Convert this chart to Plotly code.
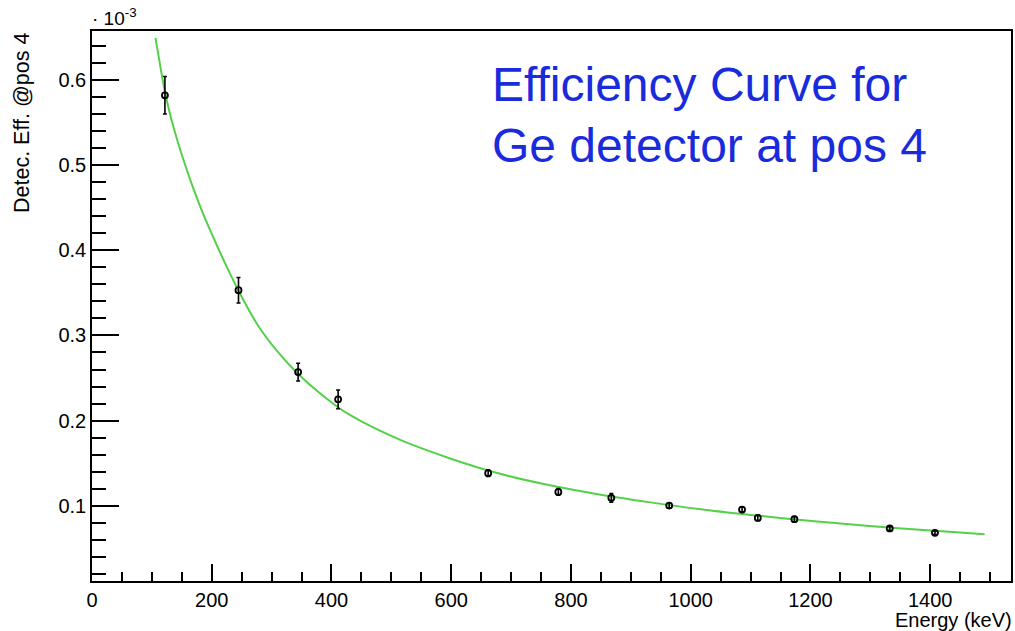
import plotly.graph_objects as go

# Measured points (efficiency in units of 1e-3)
energy_keV = [121.8, 244.7, 344.3, 411.1, 661.7, 778.9, 867.4, 964.1, 1085.8, 1112.1, 1173.2, 1332.5, 1408.0]
eff_e3 = [0.5816, 0.353, 0.257, 0.225, 0.1385, 0.1165, 0.1095, 0.1005, 0.0958, 0.086, 0.0845, 0.0736, 0.0685]
eff_err_e3 = [0.022, 0.015, 0.0104, 0.011, 0.004, 0.004, 0.005, 0.003, 0.003, 0.003, 0.003, 0.002, 0.002]

# Fit curve (units of 1e-3)
fit_keV = [106, 115, 122, 132, 142, 156, 170, 186, 202, 222, 245, 277, 310, 347, 390, 430, 513, 597,
           680, 763, 847, 930, 1013, 1100, 1180, 1260, 1347, 1420, 1491]
fit_e3 = [0.649, 0.612, 0.585, 0.555, 0.530, 0.499, 0.471, 0.442, 0.416, 0.385, 0.352, 0.312, 0.281,
          0.253, 0.227, 0.207, 0.178, 0.156, 0.138, 0.1245, 0.1135, 0.1045, 0.0965, 0.0895, 0.0838,
          0.0787, 0.0740, 0.0702, 0.0668]

x_range = [0, 1535]
y_range = [0.012, 0.657]

FONT = "Liberation Sans, Arial, Helvetica, sans-serif"

fig = go.Figure()
fig.add_trace(go.Scatter(
    x=fit_keV, y=fit_e3, mode="lines",
    line=dict(color="#55d04a", width=2, shape="spline", smoothing=1.0),
    hoverinfo="skip", showlegend=False,
))
fig.add_trace(go.Scatter(
    x=energy_keV, y=eff_e3, mode="markers",
    marker=dict(symbol="circle-open", size=6, color="black", line=dict(color="black", width=1.8)),
    error_y=dict(type="data", array=eff_err_e3, visible=True, color="black", thickness=1.6, width=2),
    showlegend=False,
))

axis_common = dict(
    showline=True, linecolor="black", linewidth=1.5, mirror=True,
    ticks="inside", tickcolor="black", tickwidth=1.5,
    showgrid=False, zeroline=False,
    tickfont=dict(family=FONT, size=20, color="black"),
)

fig.update_xaxes(
    range=x_range, tick0=0, dtick=200, ticklen=17,
    minor=dict(ticks="inside", dtick=50, ticklen=9, tickcolor="black", tickwidth=1.5, showgrid=False),
    **axis_common,
)
fig.update_yaxes(
    range=y_range, tick0=0, dtick=0.1, ticklen=27, tickformat=".1f",
    minor=dict(ticks="inside", dtick=0.02, ticklen=14, tickcolor="black", tickwidth=1.5, showgrid=False),
    **axis_common,
)

fig.add_annotation(
    text="· 10<sup>-3</sup>", xref="paper", yref="paper", x=0, y=1,
    xanchor="left", yanchor="bottom", showarrow=False, xshift=-2,
    font=dict(family=FONT, size=19, color="black"),
)
fig.add_annotation(
    text="Detec. Eff. @pos 4", xref="paper", yref="paper", x=0, y=1,
    xanchor="center", yanchor="top", textangle=-90, xshift=-70, showarrow=False,
    font=dict(family=FONT, size=21.5, color="black"),
)
fig.add_annotation(
    text="Energy (keV)", xref="paper", yref="paper", x=1, y=0,
    xanchor="right", yanchor="top", yshift=-26, xshift=3, showarrow=False,
    font=dict(family=FONT, size=20, color="black"),
)
fig.add_annotation(
    text="Efficiency Curve for", xref="paper", yref="paper", x=(491 - 92) / 921, y=1 - (85 - 31) / 550,
    xanchor="left", yanchor="middle", showarrow=False,
    font=dict(family=FONT, size=48, color="#1a2bdc"),
)
fig.add_annotation(
    text="Ge detector at pos 4", xref="paper", yref="paper", x=(491 - 92) / 921, y=1 - (145 - 31) / 550,
    xanchor="left", yanchor="middle", showarrow=False,
    font=dict(family=FONT, size=48, color="#1a2bdc"),
)

fig.update_layout(
    width=1015, height=631,
    margin=dict(l=92, r=2, t=31, b=50),
    paper_bgcolor="white", plot_bgcolor="white",
    font=dict(family=FONT, color="black"),
)

fig.write_html("out.html")
